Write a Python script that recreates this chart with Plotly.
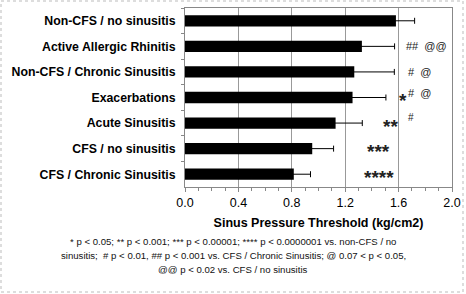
import plotly.graph_objects as go

categories = ["Non-CFS / no sinusitis", "Active Allergic Rhinitis", "Non-CFS / Chronic Sinusitis",
              "Exacerbations", "Acute Sinusitis", "CFS / no sinusitis", "CFS / Chronic Sinusitis"]
values = [1.58, 1.325, 1.268, 1.255, 1.128, 0.953, 0.815]
errors = [0.14, 0.245, 0.30, 0.25, 0.20, 0.16, 0.125]
x_ticks = [0.0, 0.4, 0.8, 1.2, 1.6, 2.0]
x_tick_labels = ["0.0", "0.4", "0.8", "1.2", "1.6", "2.0"]

# significance marks: (category, text, x, yshift, size, bold)
marks = [
    ("Active Allergic Rhinitis", "##  @@", 1.81, 0, 11, False),
    ("Non-CFS / Chronic Sinusitis", "#  @", 1.755, 0, 11, False),
    ("Exacerbations", "*", 1.63, -3, 19, True),
    ("Exacerbations", "#  @", 1.755, 5, 11, False),
    ("Acute Sinusitis", "**", 1.54, -3, 19, True),
    ("Acute Sinusitis", "#", 1.69, 6, 10, False),
    ("CFS / no sinusitis", "***", 1.45, -3, 19, True),
    ("CFS / Chronic Sinusitis", "****", 1.45, -3, 19, True),
]

footnote_lines = [
    "* p < 0.05; ** p < 0.001; *** p < 0.00001; **** p < 0.0000001 vs. non-CFS / no",
    "sinusitis;  # p < 0.01, ## p < 0.001 vs. CFS / Chronic Sinusitis; @ 0.07 < p < 0.05,",
    "@@ p < 0.02 vs. CFS / no sinusitis",
]
footnote_y = [241, 255, 269]

fig = go.Figure()
fig.add_trace(go.Bar(
    x=values, y=categories, orientation="h",
    marker=dict(color="black", line=dict(width=0)),
    width=0.44,
    error_x=dict(type="data", array=errors, color="black", thickness=1, width=3),
))

W, H = 466, 294
L, R, T, B = 185, 14, 8, 107
pw, ph = W - L - R, H - T - B

annotations = []
for cat, txt, x, ys, sz, bold in marks:
    annotations.append(dict(
        x=x, y=cat, xref="x", yref="y", text=("<b>%s</b>" % txt) if bold else txt,
        showarrow=False, yshift=ys,
        font=dict(family="Liberation Sans, Arial", size=sz, color="#222"),
    ))

for line, py in zip(footnote_lines, footnote_y):
    annotations.append(dict(
        x=(W / 2 - L) / pw, y=(T + ph - py) / ph, xref="paper", yref="paper",
        text=line, showarrow=False, xanchor="center", yanchor="middle",
        font=dict(family="Liberation Sans, Arial", size=9.6, color="#111"),
    ))

fig.update_layout(
    width=W, height=H,
    margin=dict(l=L, r=R, t=T, b=B, autoexpand=False),
    paper_bgcolor="white", plot_bgcolor="white",
    showlegend=False,
    bargap=0.56,
    font=dict(family="Liberation Sans, Arial", color="black"),
    xaxis=dict(
        range=[0, 2.0], tickvals=x_ticks, ticktext=x_tick_labels,
        showgrid=True, gridcolor="#999", gridwidth=1,
        showline=True, linecolor="#888", linewidth=1, mirror=True,
        ticks="outside", ticklen=4, tickcolor="#888",
        minor=dict(dtick=0.1, ticks="outside", ticklen=3, tickcolor="#888", showgrid=False),
        tickfont=dict(size=12.5, color="black"),
        title=dict(text="<b>Sinus Pressure Threshold (kg/cm2)</b>", font=dict(size=12.5), standoff=9),
        zeroline=False, automargin=False,
    ),
    yaxis=dict(
        autorange="reversed",
        showline=True, linecolor="#888", linewidth=1, mirror=True,
        ticks="outside", ticklen=3, tickcolor="#888", tickson="boundaries",
        tickfont=dict(size=12.3, color="black"),
        ticklabelstandoff=6, automargin=False,
    ),
    annotations=annotations,
    shapes=[dict(type="rect", xref="paper", yref="paper",
                 x0=(1 - L) / pw, x1=(W - 3 - L) / pw,
                 y0=(T + ph - (H - 2)) / ph, y1=(T + ph - 1) / ph,
                 line=dict(color="#bbb", width=1, dash="dot"))],
)
fig.update_yaxes(tickprefix="<b>", ticksuffix="</b>")

fig.write_html("out.html", config={"displayModeBar": False},
               post_script="document.body.style.margin='0';document.body.style.overflow='hidden';")
